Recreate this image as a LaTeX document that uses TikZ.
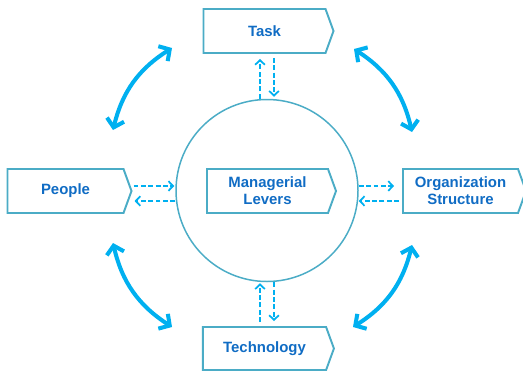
\documentclass[tikz,border=0pt]{standalone}
\usepackage{fontspec}
\setmainfont{Liberation Sans}
\usepackage{tikz}
\usetikzlibrary{shapes.symbols,arrows.meta,calc}

\definecolor{boxline}{RGB}{75,172,198}
\definecolor{arrowblue}{RGB}{0,176,240}
\definecolor{labelblue}{RGB}{16,108,196}

\begin{document}
\begin{tikzpicture}[
    lever/.style={draw=boxline, line width=1.1pt, shape=signal, signal to=east,
      signal from=nowhere, signal pointer angle=140, minimum height=0.88cm,
      inner sep=0pt, text=labelblue, align=center,
      font=\fontsize{8.5}{9.5}\selectfont\bfseries},
    link/.style={arrowblue, line width=1pt, dash pattern=on 2.8pt off 1.4pt,
      -{Straight Barb[length=2.6pt,width=5.5pt]}},
    swing/.style={arrowblue, line width=2.3pt, bend left=22,
      {Straight Barb[length=4.5pt,width=10pt]}-{Straight Barb[length=4.5pt,width=10pt]}}
  ]
          \useasboundingbox (0,0) rectangle (10.46,7.44);

          % hub circle with the levers box inside
          \node[draw=boxline, line width=0.85pt, circle, minimum size=3.64cm,
            inner sep=0pt] (hub) at (5.34,3.63) {};
          \node[lever, minimum width=2.58cm] (levers) at (5.35,3.62) {Managerial\\Levers};

          % the four boxes round it
          \node[lever, minimum width=2.6cm]  (task)   at (5.29,6.82) {Task};
          \node[lever, minimum width=2.48cm] (people) at (1.31,3.62) {People};
          \node[lever, minimum width=2.46cm] (org)    at (9.21,3.62) {Organization\\Structure};
          \node[lever, minimum width=2.62cm, minimum height=0.86cm] (tech) at (5.29,0.47) {Technology};

          % dashed links to and from the hub
          \draw[link, shorten >=0.1cm] ($(hub.north)+(-0.14,0)$) -- ($(hub.north |- task.south)+(-0.14,0)$);
          \draw[link, shorten <=0.08cm, shorten >=0.04cm] ($(hub.north |- task.south)+(0.14,0)$) -- ($(hub.north)+(0.14,0)$);

          \draw[link, shorten <=0.08cm, shorten >=0.02cm] ($(hub.south |- tech.north)+(-0.14,0)$) -- ($(hub.south)+(-0.14,0)$);
          \draw[link, shorten >=0.1cm] ($(hub.south)+(0.14,0)$) -- ($(hub.south |- tech.north)+(0.14,0)$);

          \draw[link, shorten <=0.02cm, shorten >=0.02cm] ($(people.east |- hub.west)+(0,0.09)$) -- ($(hub.west)+(0,0.09)$);
          \draw[link, shorten >=0.04cm] ($(hub.west)+(0,-0.21)$) -- ($(people.east |- hub.west)+(0,-0.21)$);

          \draw[link, shorten >=0.16cm] ($(hub.east)+(0,0.09)$) -- ($(org.west |- hub.east)+(0,0.09)$);
          \draw[link, shorten <=0.06cm] ($(org.west |- hub.east)+(0,-0.21)$) -- ($(hub.east)+(0,-0.21)$);

          % big two-way arrows between neighbouring boxes
          \coordinate (tl1) at (2.26,4.84);
          \coordinate (tl2) at (3.44,6.48);
          \coordinate (tr1) at (7.08,6.46);
          \coordinate (tr2) at (8.24,4.80);
          \coordinate (br1) at (8.24,2.54);
          \coordinate (br2) at (7.06,0.90);
          \coordinate (bl1) at (3.44,0.90);
          \coordinate (bl2) at (2.26,2.58);

          \foreach \a/\b in {tl1/tl2, tr1/tr2, br1/br2, bl1/bl2}{
            \draw[swing] (\a) to (\b);
          }
        \end{tikzpicture}
\end{document}
